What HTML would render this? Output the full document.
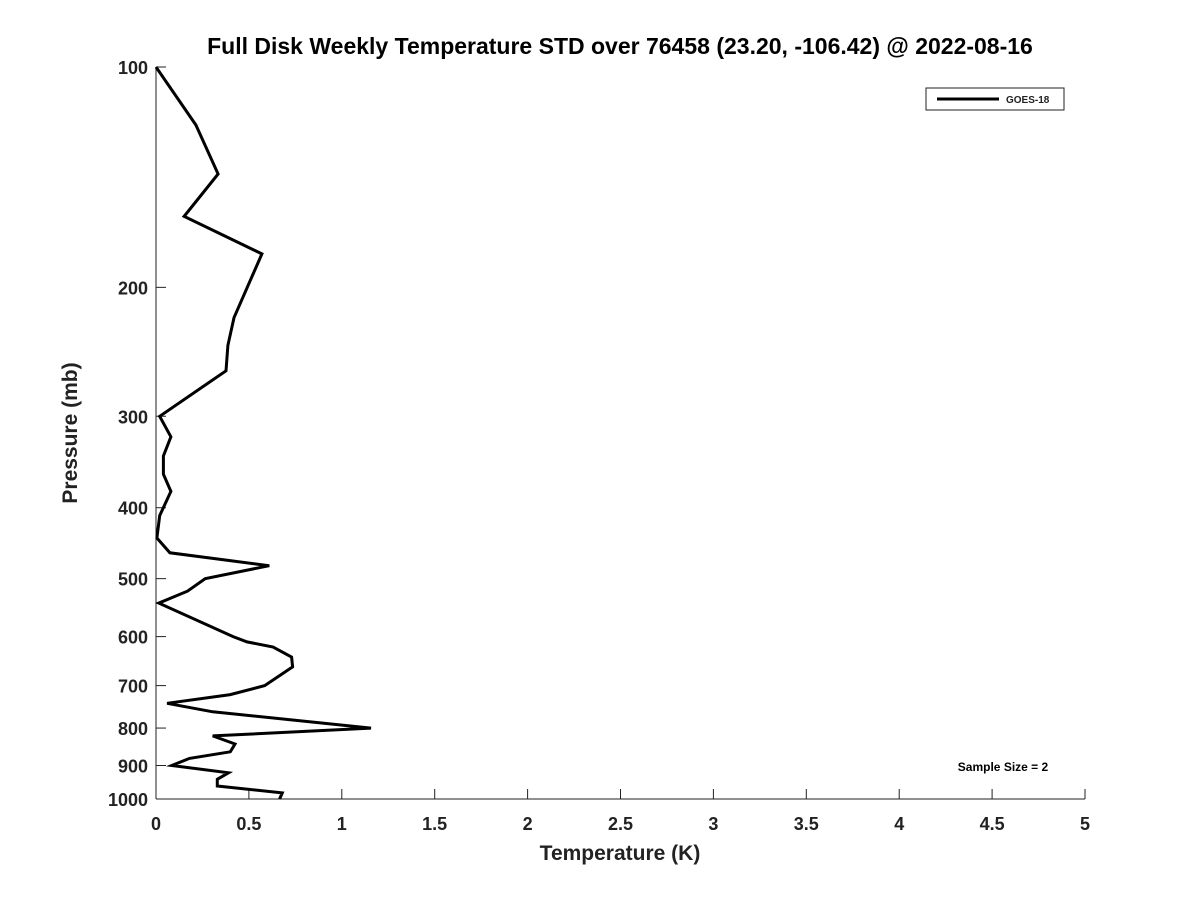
<!DOCTYPE html>
<html><head><meta charset="utf-8"><style>
body{margin:0;background:#fff;}
svg text{font-family:"Liberation Sans","DejaVu Sans",sans-serif;font-weight:bold;fill:#222;}
</style></head><body>
<svg id="chart" width="1200" height="900" xmlns="http://www.w3.org/2000/svg">
<rect width="1200" height="900" fill="#fff"/>
<text x="620" y="54" text-anchor="middle" font-size="23" style="fill:#000">Full Disk Weekly Temperature STD over 76458 (23.20, -106.42) @ 2022-08-16</text>
<g id="axes"></g>
<path id="series" fill="none" stroke="#000" stroke-width="3" stroke-linejoin="miter"/>
<g>
<rect x="926" y="88" width="138" height="22" fill="#fff" stroke="#222" stroke-width="1"/>
<line x1="937" y1="99" x2="999" y2="99" stroke="#000" stroke-width="3"/>
<text x="1006" y="103" font-size="10">GOES-18</text>
</g>
<text x="1003" y="771" text-anchor="middle" font-size="12" style="fill:#000">Sample Size = 2</text>
<text x="620" y="860" text-anchor="middle" font-size="21">Temperature (K)</text>
<text transform="translate(77,433) rotate(-90)" text-anchor="middle" font-size="21">Pressure (mb)</text>
</svg>
<script>
const pressures=[100,120,140,160,180,220,240,260,300,320,340,360,380,410,440,461,480,500,520,540,600,610,620,640,660,700,720,740,760,800,820,841,862,880,900,921,940,960,981,1000];
const stdValues=[0,0.215,0.334,0.151,0.57,0.42,0.387,0.377,0.02,0.08,0.04,0.04,0.08,0.02,0.005,0.075,0.61,0.265,0.17,0.015,0.415,0.49,0.63,0.73,0.735,0.585,0.40,0.06,0.305,1.157,0.305,0.425,0.40,0.18,0.085,0.39,0.33,0.33,0.68,0.665];
const xTicks=[0,0.5,1,1.5,2,2.5,3,3.5,4,4.5,5];
const xTickLabels=["0","0.5","1","1.5","2","2.5","3","3.5","4","4.5","5"];
const yTicks=[100,200,300,400,500,600,700,800,900,1000];
const X0=156,X1=1085,Y0=67,Y1=799,XMIN=0,XMAX=5,PMIN=100,PMAX=1000;
function xs(v){return X0+(v-XMIN)/(XMAX-XMIN)*(X1-X0);}
function ys(p){return Y0+(Math.log10(p)-Math.log10(PMIN))/(Math.log10(PMAX)-Math.log10(PMIN))*(Y1-Y0);}
const NS="http://www.w3.org/2000/svg";
const ax=document.getElementById('axes');
function mk(t,a){const e=document.createElementNS(NS,t);for(const k in a)e.setAttribute(k,a[k]);ax.appendChild(e);return e;}
let l=mk('line',{x1:X0,y1:Y0,x2:X0,y2:Y1,stroke:'#222','stroke-width':1});


l=mk('line',{x1:X0,y1:Y1,x2:X1,y2:Y1,stroke:'#222','stroke-width':1});


xTicks.forEach((v,i)=>{
 const t=mk('line',{x1:xs(v),y1:Y1,x2:xs(v),y2:Y1-10,stroke:'#222','stroke-width':1});
 
 
 const tx=mk('text',{x:xs(v),y:Y1+31,'text-anchor':'middle','font-size':18});
 tx.textContent=xTickLabels[i];
 
 
});
yTicks.forEach(p=>{
 const t=mk('line',{x1:X0,y1:ys(p),x2:X0+10,y2:ys(p),stroke:'#222','stroke-width':1});
 
 
 const tx=mk('text',{x:X0-8,y:ys(p)+7,'text-anchor':'end','font-size':18});
 tx.textContent=String(p);
 
 
});
let d='';
pressures.forEach((p,i)=>{d+=(i?'L':'M')+xs(stdValues[i]).toFixed(1)+' '+ys(p).toFixed(1);});
document.getElementById('series').setAttribute('d',d);
</script>
</body></html>
